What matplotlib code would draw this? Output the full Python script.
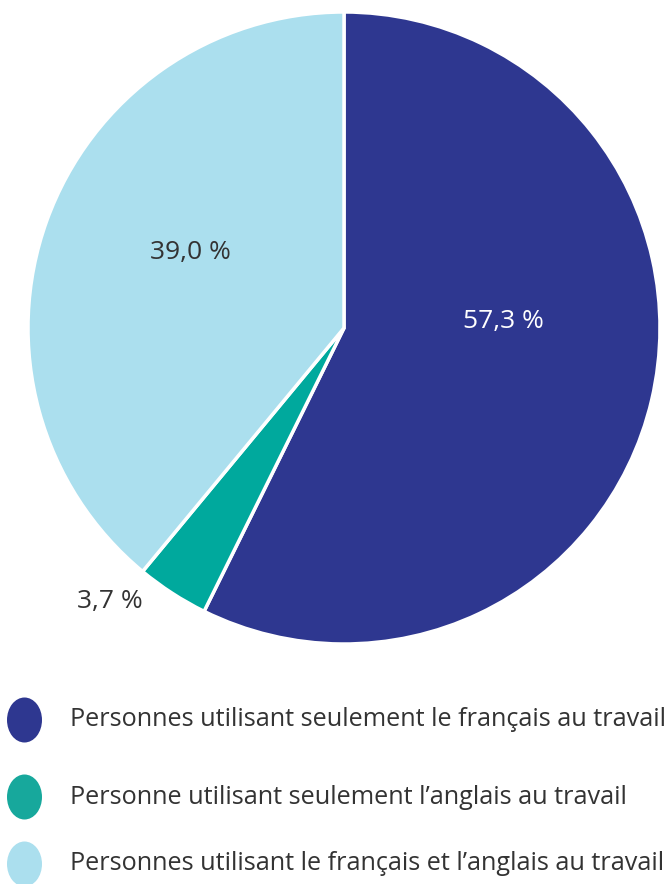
import matplotlib.pyplot as plt
from matplotlib.patches import Ellipse

# data
labels = [
    "Personnes utilisant seulement le français au travail",
    "Personne utilisant seulement l\u2019anglais au travail",
    "Personnes utilisant le français et l\u2019anglais au travail",
]
values = [57.3, 3.7, 39.0]
pct_text = ["57,3 %", "3,7 %", "39,0 %"]
colors = ["#2E3790", "#00A99D", "#ABDFEE"]
legend_colors = ["#2E3790", "#17A89C", "#ABDFEE"]
text_colors = ["white", "#333333", "#333333"]

plt.rcParams['font.family'] = ['Open Sans', 'DejaVu Sans']

W, H = 671, 884
fig = plt.figure(figsize=(W / 100, H / 100), dpi=100)

# pie axes
ax = fig.add_axes([28 / W, 1 - 644 / H, 632 / W, 632 / H])
ax.pie(values, colors=colors, startangle=90, counterclock=False,
       wedgeprops=dict(edgecolor="white", linewidth=2.5))
ax.set_xlim(-1, 1)
ax.set_ylim(-1, 1)
ax.set_aspect("equal")
ax.axis("off")

# label positions (pie radius units)
label_pos = [(0.503, 0.019), (-0.74, -0.864), (-0.487, 0.24)]
for (x, y), t, c in zip(label_pos, pct_text, text_colors):
    ax.text(x, y, t, ha="center", va="center", fontsize=19, color=c)

# legend
leg_y = [720, 797, 864]
for yy, lab, c in zip(leg_y, labels, legend_colors):
    e = Ellipse((24.5 / W, 1 - yy / H), 35 / W, 45 / H, transform=fig.transFigure,
                facecolor=c, edgecolor="none")
    fig.patches.append(e)
    fig.text(70 / W, 1 - yy / H, lab, ha="left", va="center", fontsize=18.2, color="#333333")

fig.savefig("out.png", dpi=100)
